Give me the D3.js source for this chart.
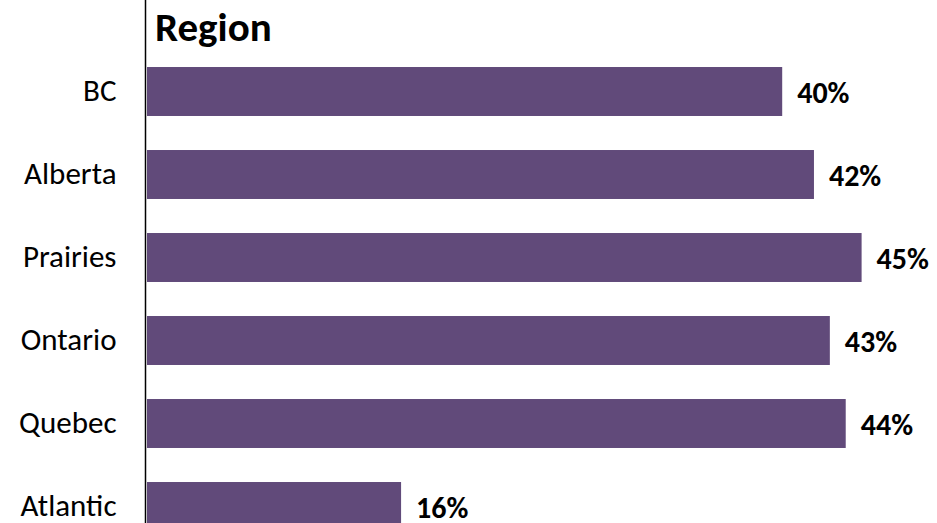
<!DOCTYPE html>
<html>
<head>
<meta charset="utf-8">
<script src="https://cdn.jsdelivr.net/npm/d3@7"></script>
<style>
  html, body { margin: 0; padding: 0; background: #fff; }
  svg { display: block; }
</style>
</head>
<body>
<svg id="chart" width="937" height="523"></svg>
<script>
// Share of respondents by region
const categories = ["BC", "Alberta", "Prairies", "Ontario", "Quebec", "Atlantic"];
const values = [40, 42, 45, 43, 44, 16];
const valueLabels = ["40%", "42%", "45%", "43%", "44%", "16%"];
const title = "Region";

const data = categories.map((c, i) => ({ cat: c, value: values[i], label: valueLabels[i] }));

const svg = d3.select("#chart");
const font = "Carlito, Lato, 'Open Sans', sans-serif";

const x = d3.scaleLinear().domain([0, 50]).range([147, 941]);
const y = d3.scaleBand()
  .domain(categories)
  .range([50, 548])
  .paddingInner(0.41)
  .paddingOuter(0.205);

// bars
svg.append("g")
  .selectAll("rect")
  .data(data)
  .join("rect")
  .attr("x", x(0))
  .attr("y", d => y(d.cat))
  .attr("width", d => x(d.value) - x(0))
  .attr("height", y.bandwidth())
  .attr("fill", "#614a7a");

// value labels
svg.append("g")
  .selectAll("text")
  .data(data)
  .join("text")
  .attr("x", d => x(d.value) + 15)
  .attr("y", d => y(d.cat) + y.bandwidth() / 2 + 1)
  .attr("dominant-baseline", "central")
  .attr("font-family", font)
  .attr("font-weight", "bold")
  .attr("font-size", 30)
  .attr("fill", "#000")
  .text(d => d.label);

// category axis
const axis = svg.append("g")
  .attr("transform", `translate(${x(0) - 1.5},0)`)
  .call(d3.axisLeft(y).tickSize(0).tickPadding(29));
axis.select(".domain").remove();
axis.selectAll("text")
  .attr("font-family", font)
  .attr("font-size", 31)
  .attr("fill", "#000")
  .attr("dy", "-1.5")
  .attr("dominant-baseline", "central");

// vertical axis line
svg.append("line")
  .attr("x1", x(0) - 1.5).attr("x2", x(0) - 1.5)
  .attr("y1", 0).attr("y2", 523)
  .attr("stroke", "#000")
  .attr("stroke-width", 1.5);

// title
svg.append("text")
  .attr("x", 155)
  .attr("y", 41)
  .attr("font-family", font)
  .attr("font-weight", "bold")
  .attr("font-size", 41)
  .attr("fill", "#000")
  .text(title);
</script>
</body>
</html>
